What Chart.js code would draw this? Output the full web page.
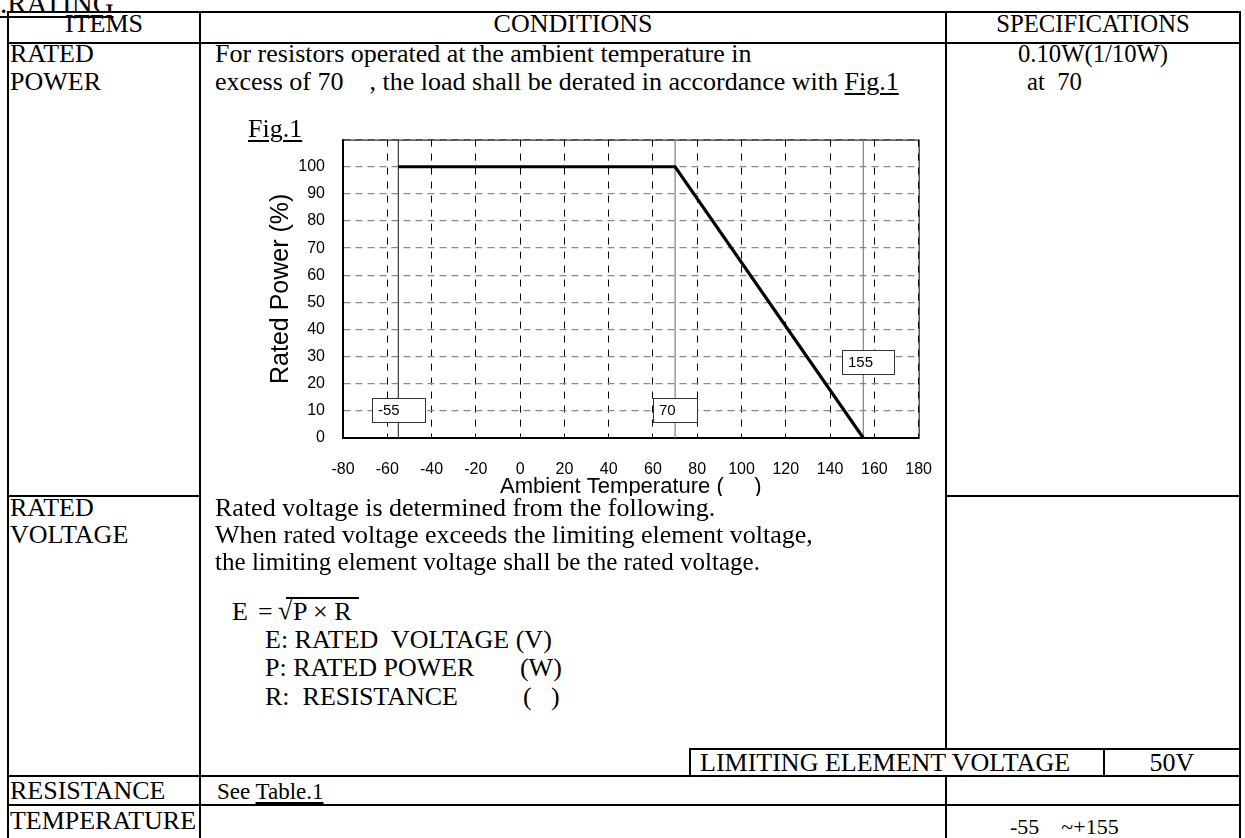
<!DOCTYPE html>
<html>
<head>
<meta charset="utf-8">
<title>RATING</title>
<script src="https://cdn.jsdelivr.net/npm/chart.js@4.4.1/dist/chart.umd.min.js"></script>
<style>
  html, body { margin: 0; padding: 0; background: #fff; }
  body { width: 1245px; height: 838px; position: relative; overflow: hidden;
         font-family: 'Liberation Serif', 'Times New Roman', serif; color: #000; }
  .t { position: absolute; font-size: 26px; line-height: 1; white-space: pre; transform-origin: 0 50%; z-index: 3; }
  .s { font-size: 24.7px; }
  .c { text-align: center; }
  .u { text-decoration: underline; text-decoration-thickness: 2px; text-underline-offset: 3px; }
  .hl { position: absolute; height: 2px; background: #000; }
  .vl { position: absolute; width: 2px; background: #000; }
  #chartBox { position: absolute; left: 200px; top: 112px; width: 754px; height: 384px; overflow: hidden; z-index: 2; }
</style>
</head>
<body>

<!-- table frame -->
<div class="hl" style="left:7px; top:11px; width:1234px;"></div>
<div class="hl" style="left:7px; top:42px; width:1234px;"></div>
<div class="hl" style="left:7px; top:495px; width:194px;"></div>
<div class="hl" style="left:945px; top:495px; width:296px;"></div>
<div class="hl" style="left:689px; top:748px; width:552px;"></div>
<div class="hl" style="left:7px; top:775px; width:1234px;"></div>
<div class="hl" style="left:7px; top:804px; width:1234px;"></div>
<div class="vl" style="left:7px; top:11px; height:827px;"></div>
<div class="vl" style="left:199px; top:11px; height:827px;"></div>
<div class="vl" style="left:945px; top:11px; height:738px;"></div>
<div class="vl" style="left:945px; top:775px; height:63px;"></div>
<div class="vl" style="left:1239px; top:11px; height:827px;"></div>
<div class="vl" style="left:689px; top:748px; height:28px;"></div>
<div class="vl" style="left:1103px; top:748px; height:28px;"></div>

<div class="t u" style="left:0px; top:-11px; font-size:29px;">.RATING</div>

<!-- header -->
<div class="t c" style="left:8px; width:192px; top:11px;">ITEMS</div>
<div class="t c" style="left:200px; width:746px; top:11px;">CONDITIONS</div>
<div class="t c s" style="left:946px; width:294px; top:12px;">SPECIFICATIONS</div>

<!-- rated power -->
<div class="t" style="left:10px; top:41px;">RATED</div>
<div class="t" style="left:10px; top:69px;">POWER</div>
<div class="t" style="left:215px; top:41px;">For resistors operated at the ambient temperature in</div>
<div class="t" style="left:215px; top:69px;">excess of 70&#8195;, the load shall be derated in accordance with <span class="u">Fig.1</span></div>
<div class="t c s" style="left:946px; width:294px; top:42px;">0.10W(1/10W)</div>
<div class="t s" style="left:1027px; top:70px;">at  70</div>
<div class="t u" style="left:248px; top:116px;">Fig.1</div>

<!-- rated voltage -->
<div class="t" style="left:10px; top:495px;">RATED</div>
<div class="t" style="left:10px; top:522px;">VOLTAGE</div>
<div class="t" style="left:215px; top:495px;">Rated voltage is determined from the following.</div>
<div class="t" style="left:215px; top:522px;">When rated voltage exceeds the limiting element voltage,</div>
<div class="t" data-w="545" style="left:215px; top:549px;">the limiting element voltage shall be the rated voltage.</div>
<div class="t" style="left:232px; top:599px;">E</div>
<div class="t" style="left:258px; top:599px;">=</div>
<div class="t" style="left:278px; top:598px;">&#8730;</div>
<div class="hl" style="left:286px; top:597px; width:73px; height:1.5px;"></div>
<div class="t" style="left:293px; top:599px;">P × R</div>
<div class="t" style="left:265px; top:627px;">E: RATED  VOLTAGE (V)</div>
<div class="t" style="left:265px; top:655px;">P: RATED POWER       (W)</div>
<div class="t" style="left:265px; top:684px;">R:  RESISTANCE          ( &#8194;)</div>
<div class="t" style="left:700px; top:750px;">LIMITING ELEMENT VOLTAGE</div>
<div class="t c" style="left:1104px; width:136px; top:750px;">50V</div>

<!-- resistance / temperature -->
<div class="t" style="left:10px; top:778px;">RESISTANCE</div>
<div class="t" style="left:217px; top:780px; font-size:23px;">See <span class="u">Table.1</span></div>
<div class="t" data-w="186" style="left:10px; top:808px;">TEMPERATURE</div>
<div class="t" style="left:1010px; top:816px; font-size:22px;">-55&#8195;~+155</div>

<div id="chartBox"><canvas id="derating" width="754" height="388"></canvas></div>

<script>
// axis ranges read from Fig.1
const tempAxisMin = -80;
const tempAxisMax = 180;
const tempAxisStep = 20;
const powerAxisMin = 0;
const powerAxisMax = 110;
const powerAxisStep = 10;

// derating curve
const deratingTemps = [-55, 70, 155];
const deratingPower = [100, 100, 0];

// marked temperatures (vertical lines + boxed labels)
const markerTemps = [-55, 70, 155];
const markerLabels = ['-55', '70', '155'];
const markerColors = ['#3a3a3a', '#808080', '#808080'];

// squeeze a few cells to the width they have in the sheet
document.querySelectorAll('[data-w]').forEach(el => {
    const w = el.getBoundingClientRect().width;
    el.style.transform = 'scaleX(' + (parseFloat(el.dataset.w) / w) + ')';
});

Chart.defaults.font.family = '"Liberation Sans", Arial, sans-serif';
Chart.defaults.color = '#000';

const markerBoxes = {
    id: 'markerBoxes',
    afterDatasetsDraw(chart, args, opts) {
        const { ctx, scales: { x, y } } = chart;
        ctx.save();
        ctx.font = '15px "Liberation Sans", Arial, sans-serif';
        ctx.textBaseline = 'middle';
        ctx.textAlign = 'left';
        markerTemps.forEach((t, i) => {
            const left = Math.round(x.getPixelForValue(t) + opts.shift[i]);
            const top = Math.round(y.getPixelForValue(opts.levels[i]));
            const w = opts.widths[i];
            const h = opts.height;
            ctx.fillStyle = '#fff';
            ctx.fillRect(left, top, w, h);
            ctx.strokeStyle = '#333';
            ctx.lineWidth = 1;
            ctx.strokeRect(left + 0.5, top + 0.5, w, h);
            ctx.fillStyle = '#000';
            ctx.fillText(markerLabels[i], left + opts.padX, top + h / 2 + 1);
        });
        ctx.restore();
    }
};

const plotFrame = {
    id: 'plotFrame',
    beforeDatasetsDraw(chart) {
        const { ctx, chartArea: a } = chart;
        ctx.save();
        ctx.strokeStyle = '#000';
        ctx.lineWidth = 1;
        ctx.strokeRect(a.left + 0.5, a.top + 0.5, a.right - a.left, a.bottom - a.top);
        ctx.restore();
    }
};

const markerSets = markerTemps.map((t, i) => ({
    label: markerLabels[i],
    data: [{ x: t, y: powerAxisMin }, { x: t, y: powerAxisMax }],
    borderColor: markerColors[i],
    borderWidth: 1.2,
    pointRadius: 0,
    order: 2
}));

const ctx = document.getElementById('derating').getContext('2d');
let derating = new Chart(ctx, {
    type: 'line',
    data: {
        datasets: [
            {
                label: 'Rated Power',
                data: deratingTemps.map((t, i) => ({ x: t, y: deratingPower[i] })),
                borderColor: '#000',
                borderWidth: 3.2,
                pointRadius: 0,
                order: 0
            },
            ...markerSets
        ]
    },
    options: {
        responsive: false,
        animation: false,
        layout: { padding: 0 },
        plugins: {
            legend: { display: false },
            tooltip: { enabled: false },
            markerBoxes: { levels: [14.8, 14.8, 32.5], shift: [-26, -22, -21], widths: [53, 44, 52], height: 24, padX: 6 }
        },
        scales: {
            x: {
                type: 'linear',
                min: tempAxisMin,
                max: tempAxisMax,
                ticks: { stepSize: tempAxisStep, padding: 22, font: { size: 16 } },
                grid: { color: '#000', lineWidth: 1, drawTicks: false },
                border: { display: true, color: '#000', width: 2, dash: [7, 7] },
                title: { display: true, text: 'Ambient Temperature (     )', font: { size: 22 }, padding: { top: 0, bottom: 0 } },
                afterFit: scale => { scale.height = 62; }
            },
            y: {
                min: powerAxisMin,
                max: powerAxisMax,
                ticks: {
                    stepSize: powerAxisStep,
                    padding: 18,
                    font: { size: 16 },
                    callback: v => (v > 100 ? '' : v)
                },
                grid: { color: '#8a8a8a', lineWidth: 1.3, drawTicks: false },
                border: { display: true, color: '#000', width: 1.5, dash: [7, 5] },
                title: { display: true, text: 'Rated Power (%)', font: { size: 25 }, padding: { top: 66, bottom: 0 } },
                afterFit: scale => { scale.width = 143; }
            }
        }
    },
    plugins: [plotFrame, markerBoxes]
});
</script>
</body>
</html>
